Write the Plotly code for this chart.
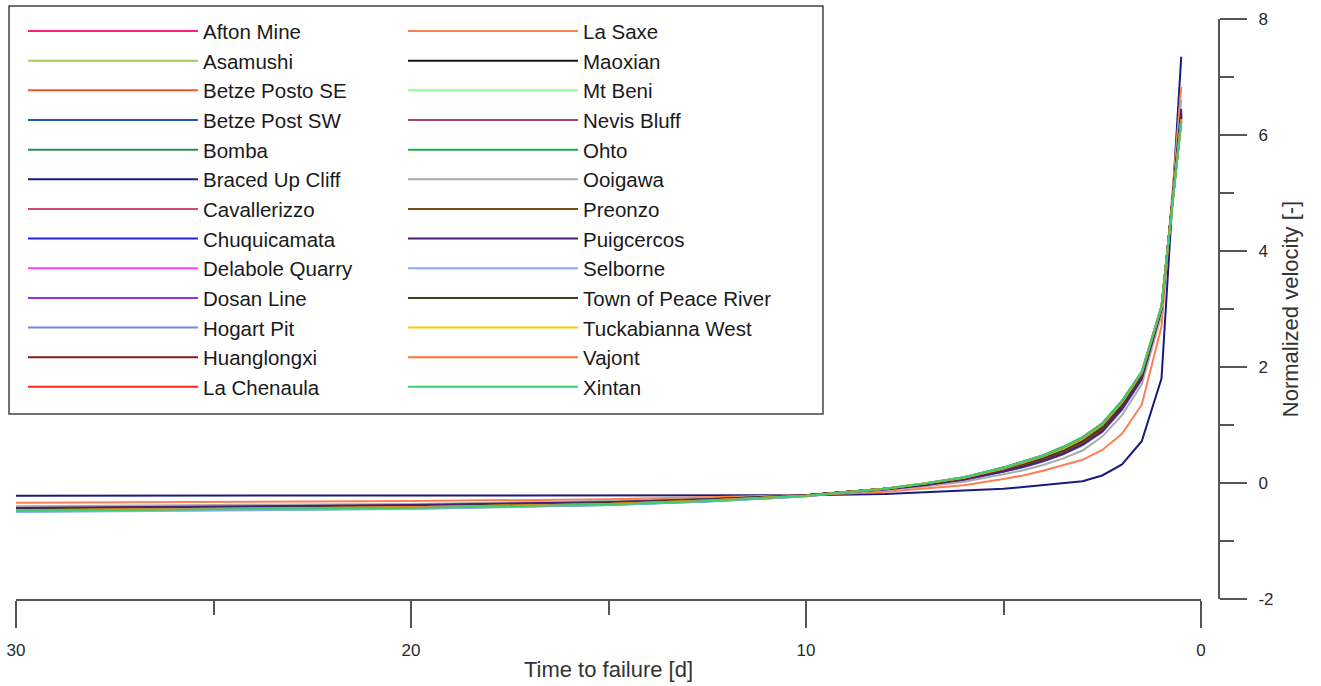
import plotly.graph_objects as go

# Time to failure [d]
time_to_failure = [30, 25, 20, 15, 12.5, 10, 8, 7, 6, 5, 4.5, 4, 3.5, 3, 2.5, 2, 1.5, 1, 0.5]

# Normalized velocity [-] per site
afton_mine          = [-0.44, -0.42, -0.39, -0.33, -0.28, -0.21, -0.10, -0.03, 0.07, 0.22, 0.30, 0.40, 0.53, 0.69, 0.92, 1.30, 1.82, 3.00, 6.35]
asamushi            = [-0.47, -0.45, -0.42, -0.36, -0.30, -0.22, -0.10, -0.02, 0.09, 0.25, 0.34, 0.45, 0.58, 0.75, 0.99, 1.38, 1.89, 3.03, 6.28]
betze_posto_se      = [-0.45, -0.43, -0.40, -0.34, -0.29, -0.21, -0.10, -0.03, 0.08, 0.23, 0.32, 0.42, 0.55, 0.71, 0.95, 1.33, 1.85, 3.01, 6.32]
betze_post_sw       = [-0.43, -0.41, -0.38, -0.33, -0.28, -0.21, -0.11, -0.04, 0.06, 0.20, 0.28, 0.38, 0.50, 0.66, 0.89, 1.27, 1.79, 2.98, 6.40]
bomba               = [-0.49, -0.47, -0.44, -0.38, -0.32, -0.23, -0.10, -0.01, 0.10, 0.27, 0.37, 0.48, 0.62, 0.79, 1.03, 1.42, 1.92, 3.05, 6.22]
braced_up_cliff     = [-0.22, -0.22, -0.22, -0.22, -0.21, -0.21, -0.19, -0.16, -0.14, -0.10, -0.07, -0.04, -0.01, 0.03, 0.13, 0.32, 0.72, 1.80, 7.35]
cavallerizzo        = [-0.45, -0.43, -0.40, -0.34, -0.28, -0.21, -0.10, -0.02, 0.08, 0.24, 0.32, 0.42, 0.55, 0.72, 0.96, 1.34, 1.86, 3.02, 6.30]
chuquicamata        = [-0.44, -0.42, -0.39, -0.33, -0.28, -0.21, -0.10, -0.03, 0.07, 0.21, 0.29, 0.39, 0.52, 0.68, 0.91, 1.29, 1.81, 2.99, 6.37]
delabole_quarry     = [-0.46, -0.44, -0.41, -0.35, -0.29, -0.22, -0.10, -0.02, 0.08, 0.24, 0.33, 0.43, 0.56, 0.73, 0.97, 1.35, 1.87, 3.02, 6.30]
dosan_line          = [-0.44, -0.42, -0.39, -0.33, -0.28, -0.21, -0.10, -0.03, 0.07, 0.22, 0.30, 0.40, 0.53, 0.69, 0.93, 1.31, 1.83, 3.00, 6.34]
hogart_pit          = [-0.42, -0.40, -0.38, -0.32, -0.27, -0.21, -0.11, -0.04, 0.05, 0.19, 0.27, 0.37, 0.49, 0.65, 0.88, 1.26, 1.78, 2.97, 6.42]
huanglongxi         = [-0.45, -0.43, -0.40, -0.34, -0.29, -0.21, -0.10, -0.02, 0.08, 0.23, 0.31, 0.41, 0.54, 0.70, 0.94, 1.32, 1.84, 3.01, 6.33]
la_chenaula         = [-0.46, -0.44, -0.41, -0.35, -0.29, -0.22, -0.10, -0.02, 0.09, 0.24, 0.33, 0.44, 0.57, 0.74, 0.98, 1.36, 1.88, 3.02, 6.29]
la_saxe             = [-0.34, -0.33, -0.31, -0.28, -0.25, -0.21, -0.15, -0.10, -0.04, 0.07, 0.13, 0.21, 0.30, 0.40, 0.57, 0.85, 1.35, 2.70, 6.83]
maoxian             = [-0.45, -0.43, -0.40, -0.34, -0.29, -0.21, -0.10, -0.03, 0.07, 0.22, 0.31, 0.41, 0.54, 0.70, 0.93, 1.31, 1.83, 3.00, 6.34]
mt_beni             = [-0.47, -0.45, -0.42, -0.36, -0.30, -0.22, -0.10, -0.02, 0.09, 0.25, 0.34, 0.45, 0.59, 0.76, 1.00, 1.39, 1.90, 3.04, 6.27]
nevis_bluff         = [-0.43, -0.41, -0.39, -0.33, -0.28, -0.21, -0.11, -0.03, 0.06, 0.21, 0.29, 0.39, 0.51, 0.67, 0.90, 1.28, 1.80, 2.98, 6.38]
ohto                = [-0.48, -0.46, -0.43, -0.37, -0.31, -0.22, -0.10, -0.01, 0.10, 0.26, 0.36, 0.47, 0.61, 0.78, 1.02, 1.41, 1.91, 3.05, 6.24]
ooigawa             = [-0.40, -0.38, -0.36, -0.31, -0.27, -0.21, -0.12, -0.06, 0.02, 0.15, 0.22, 0.31, 0.42, 0.56, 0.80, 1.17, 1.70, 2.90, 6.60]
preonzo             = [-0.44, -0.42, -0.39, -0.33, -0.28, -0.21, -0.10, -0.03, 0.07, 0.22, 0.30, 0.40, 0.53, 0.69, 0.92, 1.30, 1.82, 3.00, 6.36]
puigcercos          = [-0.43, -0.41, -0.38, -0.33, -0.28, -0.21, -0.11, -0.04, 0.06, 0.20, 0.28, 0.38, 0.50, 0.66, 0.89, 1.28, 1.80, 2.99, 6.45]
selborne            = [-0.50, -0.48, -0.45, -0.38, -0.32, -0.23, -0.10, -0.01, 0.10, 0.26, 0.36, 0.47, 0.60, 0.77, 1.01, 1.40, 1.90, 3.04, 6.25]
town_of_peace_river = [-0.46, -0.44, -0.41, -0.35, -0.29, -0.22, -0.10, -0.02, 0.08, 0.24, 0.33, 0.43, 0.56, 0.73, 0.97, 1.35, 1.87, 3.02, 6.31]
tuckabianna_west    = [-0.47, -0.45, -0.42, -0.36, -0.30, -0.22, -0.10, -0.01, 0.09, 0.25, 0.35, 0.46, 0.59, 0.76, 1.00, 1.39, 1.90, 3.04, 6.27]
vajont              = [-0.47, -0.45, -0.42, -0.36, -0.30, -0.22, -0.10, -0.01, 0.09, 0.26, 0.35, 0.46, 0.60, 0.77, 1.01, 1.40, 1.91, 3.04, 6.26]
xintan              = [-0.48, -0.46, -0.43, -0.37, -0.31, -0.22, -0.10, -0.01, 0.10, 0.26, 0.36, 0.47, 0.61, 0.78, 1.02, 1.41, 1.91, 3.05, 6.23]

site_names = [
    "Afton Mine", "Asamushi", "Betze Posto SE", "Betze Post SW", "Bomba",
    "Braced Up Cliff", "Cavallerizzo", "Chuquicamata", "Delabole Quarry",
    "Dosan Line", "Hogart Pit", "Huanglongxi", "La Chenaula",
    "La Saxe", "Maoxian", "Mt Beni", "Nevis Bluff", "Ohto", "Ooigawa",
    "Preonzo", "Puigcercos", "Selborne", "Town of Peace River",
    "Tuckabianna West", "Vajont", "Xintan",
]
site_values = [
    afton_mine, asamushi, betze_posto_se, betze_post_sw, bomba,
    braced_up_cliff, cavallerizzo, chuquicamata, delabole_quarry,
    dosan_line, hogart_pit, huanglongxi, la_chenaula,
    la_saxe, maoxian, mt_beni, nevis_bluff, ohto, ooigawa,
    preonzo, puigcercos, selborne, town_of_peace_river,
    tuckabianna_west, vajont, xintan,
]
site_colors = [
    "#ff1f78", "#9acd5a", "#e85a2a", "#2454b8", "#2e8b57",
    "#1b1b7e", "#d4477a", "#1f24f0", "#ff40ff",
    "#9b30d9", "#7282f2", "#8b1a1a", "#ff2222",
    "#ff7f50", "#141414", "#98fb98", "#a2466f", "#22aa55", "#aaaaaa",
    "#7b4a12", "#4b1e78", "#88aaff", "#3f3f1e",
    "#ffc800", "#ff7722", "#3dcc6e",
]

x_tick_vals = [30, 20, 10, 0]
x_tick_text = ["30", "20", "10", "0"]
x_minor_vals = [25, 15, 5]
y_tick_vals = [-2, 0, 2, 4, 6, 8]
y_tick_text = ["-2", "0", "2", "4", "6", "8"]
y_minor_vals = [-1, 1, 3, 5, 7]

fig = go.Figure()
for i, (name, vals, col) in enumerate(zip(site_names, site_values, site_colors)):
    fig.add_trace(go.Scatter(
        x=time_to_failure, y=vals, mode="lines", name=name,
        line=dict(color=col, width=2),
        legend="legend" if i < 13 else "legend2",
    ))

axis_col = "#555555"
tick_font = dict(family="Liberation Sans, Arial", size=17, color="#2a2a2a")
title_font = dict(family="Liberation Sans, Arial", size=22, color="#333333")
legend_font = dict(family="Liberation Sans, Arial", size=20.5, color="#1a1a1a")

fig.update_layout(
    width=1321, height=686,
    margin=dict(l=16, r=102, t=19, b=87, autoexpand=False),
    paper_bgcolor="white", plot_bgcolor="white",
    showlegend=True,
    xaxis=dict(
        domain=[0, 0.98504],
        range=[30, 0], autorange=False, automargin=False,
        showgrid=False, zeroline=False,
        showline=True, linecolor=axis_col, linewidth=2,
        ticks="outside", ticklen=27, tickwidth=2, tickcolor=axis_col,
        tickvals=x_tick_vals, ticktext=x_tick_text,
        minor=dict(tickvals=x_minor_vals, ticks="outside", ticklen=14, tickwidth=2, tickcolor=axis_col),
        tickfont=tick_font, ticklabelstandoff=8,
        title=dict(text="Time to failure [d]", font=title_font, standoff=2),
    ),
    yaxis=dict(
        range=[-2, 8], autorange=False, automargin=False,
        anchor="free", position=1.0, side="right",
        showgrid=False, zeroline=False,
        showline=True, linecolor=axis_col, linewidth=2,
        ticks="outside", ticklen=27, tickwidth=2, tickcolor=axis_col,
        tickvals=y_tick_vals, ticktext=y_tick_text,
        minor=dict(tickvals=y_minor_vals, ticks="outside", ticklen=14, tickwidth=2, tickcolor=axis_col),
        tickfont=tick_font, ticklabelstandoff=8,
        title=dict(text="Normalized velocity [-]", font=title_font, standoff=9),
    ),
    legend=dict(
        x=0.0058, y=1.0134, xanchor="left", yanchor="top",
        bgcolor="rgba(0,0,0,0)", borderwidth=0,
        font=legend_font, itemwidth=170, tracegroupgap=0,
        orientation="v", maxheight=520,
    ),
    legend2=dict(
        x=0.3217, y=1.0134, xanchor="left", yanchor="top",
        bgcolor="rgba(0,0,0,0)", borderwidth=0,
        font=legend_font, itemwidth=170, tracegroupgap=0,
        orientation="v", maxheight=520,
    ),
    shapes=[dict(
        type="rect", xref="paper", yref="paper",
        x0=-0.0058, x1=0.6708, y0=0.319, y1=1.0224,
        line=dict(color="#444444", width=1.5), fillcolor="rgba(0,0,0,0)",
        layer="below",
    )],
)

fig.write_html(
    "out.html",
    config={"displayModeBar": False},
    post_script="document.body.style.margin='0';document.body.style.overflow='hidden';",
)
